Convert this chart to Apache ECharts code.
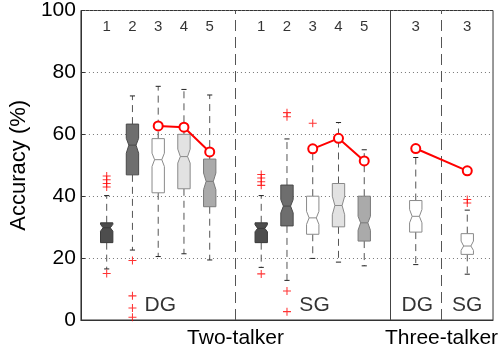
<!DOCTYPE html>
<html>
<head>
<meta charset="utf-8">
<script src="https://cdn.jsdelivr.net/npm/echarts@6/dist/echarts.min.js"></script>
<style>
html,body{margin:0;padding:0;background:#fff;}
#c{width:501px;height:349px;}
</style>
</head>
<body>
<div id="c"></div>
<script>
// ---- data ----
var positions   = [1, 2, 3, 4, 5, 7, 8, 9, 10, 11, 13, 15];
var topLabels   = ['1','2','3','4','5','1','2','3','4','5','3','3'];
var whiskerLow  = [16.5, 22.6, 20.5, 21.4, 19.4, 17.0, 12.8, 19.9, 18.7, 17.5, 17.9, 14.8];
var q1          = [25.0, 46.9, 41.1, 42.4, 36.6, 25.0, 30.4, 27.7, 30.1, 25.5, 28.4, 21.2];
var notchLow    = [28.7, 53.9, 49.6, 50.7, 42.1, 28.5, 34.6, 30.9, 34.0, 29.0, 31.4, 22.5];
var medians     = [29.8, 56.5, 51.8, 52.8, 44.8, 29.6, 36.8, 33.0, 37.0, 31.4, 33.5, 23.9];
var notchHigh   = [30.9, 58.7, 53.9, 55.2, 47.5, 30.8, 38.9, 35.1, 40.0, 33.5, 35.7, 25.5];
var q3          = [31.4, 63.3, 58.6, 60.0, 52.0, 31.4, 43.6, 40.0, 44.1, 40.0, 38.6, 27.9];
var whiskerHigh = [40.2, 72.4, 75.5, 74.5, 72.7, 40.2, 58.5, 55.5, 63.8, 55.0, 52.5, 35.5];

var outliers = [
  [1, 46.5], [1, 45.3], [1, 44.1], [1, 43.0], [1, 15.0],
  [2, 19.2], [2, 7.8], [2, 3.9], [2, 0.9],
  [7, 47.0], [7, 45.9], [7, 44.7], [7, 43.5], [7, 14.9],
  [8, 67.0], [8, 65.7], [8, 9.4], [8, 2.7],
  [9, 63.6],
  [15, 38.9], [15, 37.8]
];

var meanDG2 = [[3, 62.7], [4, 62.3], [5, 54.3]];
var meanSG2 = [[9, 55.3], [10, 58.7], [11, 51.4]];
var mean3   = [[13, 55.4], [15, 48.2]];

var groupLabels = [[3.08, 'DG'], [9.07, 'SG'], [13.06, 'DG'], [15.0, 'SG']];
var separatorsDashed = [6, 14];
var separatorsSolid = [12];
var bottomLabels = {6: 'Two-talker', 14: 'Three-talker'};

// ---- styles ----
var boxFill   = ['#4d4d4d', '#6e6e6e', '#ffffff', '#e2e2e2', '#aaaaaa',
                 '#4d4d4d', '#6e6e6e', '#ffffff', '#e2e2e2', '#aaaaaa',
                 '#ffffff', '#ffffff'];
var boxStroke = ['#3a3a3a', '#4a4a4a', '#8a8a8a', '#8a8a8a', '#7a7a7a',
                 '#3a3a3a', '#4a4a4a', '#8a8a8a', '#8a8a8a', '#7a7a7a',
                 '#8a8a8a', '#8a8a8a'];

var boxData = positions.map(function (p, i) {
  return [p, whiskerLow[i], q1[i], notchLow[i], medians[i], notchHigh[i], q3[i], whiskerHigh[i]];
});
var topData = positions.map(function (p, i) { return [p, 94.6, topLabels[i]]; });
var grpData = groupLabels.map(function (g) { return [g[0], 4.8, g[1]]; });

var W = 0.24, NW = 0.14, CW = 0.1;
function renderBox(params, api) {
  var i = params.dataIndex;
  var x = api.value(0);
  var wl = api.value(1), a = api.value(2), nl = api.value(3), m = api.value(4),
      nh = api.value(5), b = api.value(6), wh = api.value(7);
  function c(dx, v) { return api.coord([x + dx, v]); }
  var poly = [c(-W, b), c(W, b), c(W, nh), c(NW, m), c(W, nl), c(W, a),
              c(-W, a), c(-W, nl), c(-NW, m), c(-W, nh)];
  var dash = {stroke: '#555', lineWidth: 1, lineDash: [7, 5]};
  var capS = {stroke: '#222', lineWidth: 1};
  return {
    type: 'group',
    children: [
      {type: 'line', shape: {x1: c(0, b)[0], y1: c(0, b)[1], x2: c(0, wh)[0], y2: c(0, wh)[1]}, style: dash},
      {type: 'line', shape: {x1: c(0, a)[0], y1: c(0, a)[1], x2: c(0, wl)[0], y2: c(0, wl)[1]}, style: dash},
      {type: 'line', shape: {x1: c(-CW, wh)[0], y1: c(-CW, wh)[1], x2: c(CW, wh)[0], y2: c(CW, wh)[1]}, style: capS},
      {type: 'line', shape: {x1: c(-CW, wl)[0], y1: c(-CW, wl)[1], x2: c(CW, wl)[0], y2: c(CW, wl)[1]}, style: capS},
      {type: 'polygon', shape: {points: poly}, style: {fill: boxFill[i], stroke: boxStroke[i], lineWidth: 1}},
      {type: 'line', shape: {x1: c(-NW, m)[0], y1: c(-NW, m)[1], x2: c(NW, m)[0], y2: c(NW, m)[1]}, style: {stroke: boxStroke[i], lineWidth: 1}}
    ]
  };
}

var FONT = 'Liberation Sans, Arial, sans-serif';
var plusPath = 'path://M4.35,0H5.65V4.35H10V5.65H5.65V10H4.35V5.65H0V4.35H4.35Z';
var redLine = {
  type: 'line', symbol: 'emptyCircle', symbolSize: 9, z: 5,
  lineStyle: {color: '#ff0000', width: 2},
  itemStyle: {color: '#ff0000', borderColor: '#ff0000', borderWidth: 2},
  animation: false
};

var chart = echarts.init(document.getElementById('c'), null, {renderer: 'canvas'});
chart.setOption({
  animation: false,
  grid: {left: 80, right: 5, top: 10, bottom: 28, show: true, borderColor: '#333', borderWidth: 1, backgroundColor: 'transparent'},
  xAxis: {
    type: 'value', min: 0, max: 16, interval: 2,
    axisLine: {show: true, lineStyle: {color: '#333'}},
    axisTick: {show: false},
    splitLine: {show: false},
    axisLabel: {
      margin: 8, fontSize: 21, color: '#000', fontFamily: FONT,
      formatter: function (v) { return bottomLabels[v] || ''; }
    }
  },
  yAxis: {
    type: 'value', min: 0, max: 100, interval: 20,
    name: 'Accuracy (%)', nameLocation: 'middle', nameGap: 48,
    nameTextStyle: {fontSize: 22, color: '#000', fontFamily: FONT},
    axisLine: {show: true, lineStyle: {color: '#333'}},
    axisTick: {show: true, inside: true, length: 4, lineStyle: {color: '#333'}},
    splitLine: {show: true, lineStyle: {color: '#777', type: [1, 3], width: 1}},
    axisLabel: {margin: 5, fontSize: 21, color: '#000', fontFamily: FONT}
  },
  series: [
    {
      type: 'custom', renderItem: renderBox, data: boxData, z: 2,
      encode: {x: 0, y: [1, 2, 3, 4, 5, 6, 7]},
      markLine: {
        silent: true, symbol: 'none', label: {show: false}, animation: false,
        data: separatorsDashed.map(function (v) {
          return {xAxis: v, lineStyle: {color: '#555', type: [11, 6], width: 1}};
        }).concat(separatorsSolid.map(function (v) {
          return {xAxis: v, lineStyle: {color: '#444', type: 'solid', width: 1}};
        }))
      }
    },
    {
      type: 'scatter', data: outliers, symbol: plusPath, symbolSize: 8, z: 4,
      itemStyle: {color: '#ff0000'}
    },
    Object.assign({data: meanDG2}, redLine),
    Object.assign({data: meanSG2}, redLine),
    Object.assign({data: mean3}, redLine),
    {
      type: 'scatter', data: topData, symbolSize: 0, z: 6,
      label: {show: true, position: 'inside', formatter: function (p) { return p.data[2]; },
              fontSize: 15, color: '#000', fontFamily: FONT}
    },
    {
      type: 'scatter', data: grpData, symbolSize: 0, z: 6,
      label: {show: true, position: 'inside', formatter: function (p) { return p.data[2]; },
              fontSize: 21, color: '#000', fontFamily: FONT}
    }
  ]
});
</script>
</body>
</html>
